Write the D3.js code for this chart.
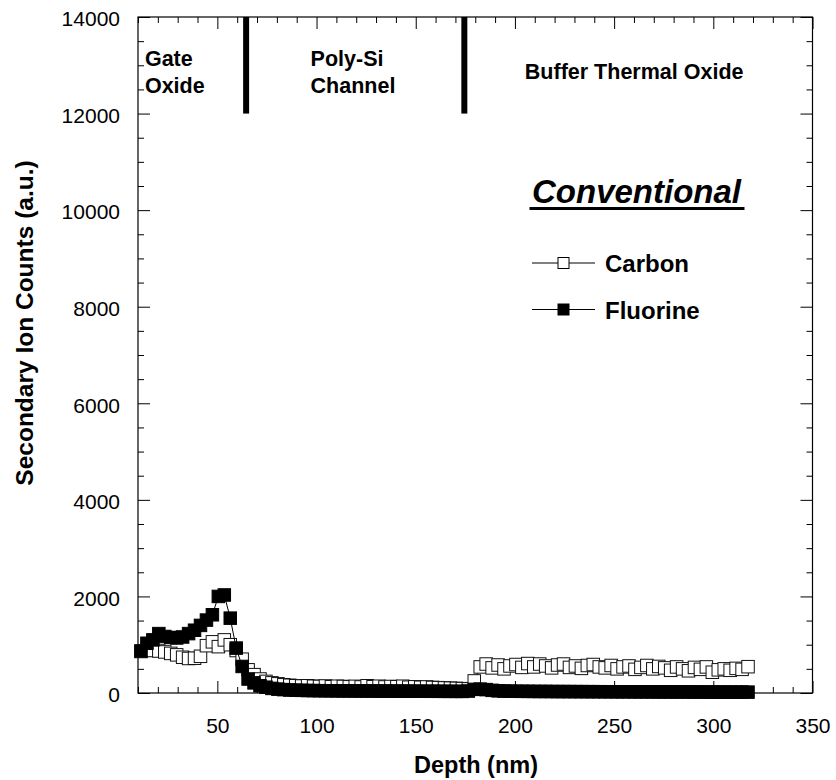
<!DOCTYPE html>
<html>
<head>
<meta charset="utf-8">
<script src="https://cdn.jsdelivr.net/npm/d3@7"></script>
<style>
  html, body { margin: 0; padding: 0; background: #fff; }
  svg { display: block; font-family: "Liberation Sans", Arial, sans-serif; }
</style>
</head>
<body>
<svg id="chart" width="836" height="780"></svg>
<script>
// ---- Data ----
const depth = [
  11.5, 14.5, 17.5, 20.5, 23.5, 26.5, 29.5, 32.5, 35.5, 38.5,
  41.5, 44.5, 47.5, 50.5, 53.5, 56.5, 59.5, 62.5, 65.5, 68.5,
  71.5, 74.5, 77.5, 80.5, 83.5, 86.5, 89.5, 92.5, 95.5, 98.5,
  101.5, 104.5, 107.5, 110.5, 113.5, 116.5, 119.5, 122.5, 125.5, 128.5,
  131.5, 134.5, 137.5, 140.5, 143.5, 146.5, 149.5, 152.5, 155.5, 158.5,
  161.5, 164.5, 167.5, 170.5, 173.5, 176.5, 179.5, 182.5, 185.5, 188.5,
  191.5, 194.5, 197.5, 200.5, 203.5, 206.5, 209.5, 212.5, 215.5, 218.5,
  221.5, 224.5, 227.5, 230.5, 233.5, 236.5, 239.5, 242.5, 245.5, 248.5,
  251.5, 254.5, 257.5, 260.5, 263.5, 266.5, 269.5, 272.5, 275.5, 278.5,
  281.5, 284.5, 287.5, 290.5, 293.5, 296.5, 299.5, 302.5, 305.5, 308.5,
  311.5, 314.5, 317.5
];
const carbon = [
  860, 890, 880, 870, 850, 820, 790, 740, 715, 720,
  760, 980, 1060, 960, 1100, 1000, 880, 700, 480, 380,
  290, 240, 210, 190, 170, 160, 150, 145, 150, 140,
  135, 145, 130, 140, 135, 128, 138, 125, 150, 130,
  140, 125, 135, 130, 140, 120, 128, 118, 125, 115,
  110, 105, 100, 95, 90, 85, 250, 540, 600, 520,
  580, 500, 560, 590, 530, 610, 540, 600, 560, 520,
  580, 600, 530, 560, 510, 570, 590, 540, 520, 570,
  500, 540, 560, 490, 530, 570, 500, 550, 520, 470,
  540, 500, 460, 530, 490, 540, 430, 480, 500, 470,
  510, 490, 545
];
const fluorine = [
  870, 1030, 1100, 1230, 1170, 1150, 1140, 1160, 1230, 1300,
  1400, 1510, 1620, 2000, 2030, 1550, 930, 550, 290, 210,
  150, 120, 95, 80, 70, 62, 58, 55, 52, 50,
  48, 47, 46, 45, 44, 44, 43, 42, 42, 41,
  40, 40, 39, 39, 38, 38, 37, 37, 36, 36,
  35, 35, 34, 34, 33, 40, 75, 80, 70, 55,
  45, 40, 38, 36, 35, 34, 33, 32, 32, 31,
  30, 30, 29, 29, 28, 28, 27, 27, 26, 26,
  25, 25, 25, 24, 24, 24, 23, 23, 23, 22,
  22, 22, 21, 21, 21, 20, 20, 20, 20, 19,
  19, 19, 18
];
const xMajorTicks = [50, 100, 150, 200, 250, 300, 350];
const yMajorTicks = [0, 2000, 4000, 6000, 8000, 10000, 12000, 14000];
const regionBoundaries = [64.5, 174.5];
const regionLabels = [
  { lines: ["Gate", "Oxide"], x: 13.5 },
  { lines: ["Poly-Si", "Channel"], x: 97 },
  { lines: ["Buffer Thermal Oxide"], x: 205 }
];
const seriesNames = ["Carbon", "Fluorine"];
const legendTitle = "Conventional";

// ---- Layout ----
const svg = d3.select("#chart");
const mLeft = 138, mRight = 812.5, mTop = 17, mBottom = 693;
const x = d3.scaleLinear().domain([10, 350]).range([mLeft, mRight]);
const y = d3.scaleLinear().domain([0, 14000]).range([mBottom, mTop]);

const xMinor = d3.range(10, 351, 10).filter(v => v % 50 !== 0);
const yMinor = d3.range(0, 14001, 500).filter(v => v % 2000 !== 0);

function styleAxis(g) {
  g.select(".domain").remove();
  g.selectAll(".tick line").attr("stroke", "#000").attr("stroke-width", 1);
}

// bottom axis majors with labels
const gxb = svg.append("g").attr("transform", `translate(0,${mBottom})`)
  .call(d3.axisBottom(x).tickValues(xMajorTicks).tickSize(-12).tickFormat(d3.format("d")));
styleAxis(gxb);
gxb.selectAll(".tick text").attr("y", 40).attr("dy", 0)
  .attr("font-size", 21).attr("fill", "#000")
  .attr("font-family", '"Liberation Sans", Arial, sans-serif');
svg.append("g").attr("transform", `translate(0,${mBottom})`)
  .call(d3.axisBottom(x).tickValues(xMinor).tickSize(-6).tickFormat(""))
  .call(styleAxis);
// top axis
svg.append("g").attr("transform", `translate(0,${mTop})`)
  .call(d3.axisTop(x).tickValues(xMajorTicks).tickSize(-12).tickFormat(""))
  .call(styleAxis);
svg.append("g").attr("transform", `translate(0,${mTop})`)
  .call(d3.axisTop(x).tickValues(xMinor).tickSize(-6).tickFormat(""))
  .call(styleAxis);
// left axis
const gyl = svg.append("g").attr("transform", `translate(${mLeft},0)`)
  .call(d3.axisLeft(y).tickValues(yMajorTicks).tickSize(-12).tickFormat(d3.format("d")));
styleAxis(gyl);
gyl.selectAll(".tick text").attr("x", -18).attr("dy", "0.42em")
  .attr("font-size", 21).attr("fill", "#000").attr("text-anchor", "end")
  .attr("font-family", '"Liberation Sans", Arial, sans-serif');
svg.append("g").attr("transform", `translate(${mLeft},0)`)
  .call(d3.axisLeft(y).tickValues(yMinor).tickSize(-6).tickFormat(""))
  .call(styleAxis);
// right axis
svg.append("g").attr("transform", `translate(${mRight},0)`)
  .call(d3.axisRight(y).tickValues(yMajorTicks).tickSize(-12).tickFormat(""))
  .call(styleAxis);
svg.append("g").attr("transform", `translate(${mRight},0)`)
  .call(d3.axisRight(y).tickValues(yMinor).tickSize(-6).tickFormat(""))
  .call(styleAxis);

// frame
svg.append("rect").attr("x", mLeft).attr("y", mTop)
  .attr("width", mRight - mLeft).attr("height", mBottom - mTop)
  .attr("fill", "none").attr("stroke", "#000").attr("stroke-width", 1.2);

// region boundaries
svg.selectAll(".boundary").data(regionBoundaries).enter().append("line")
  .attr("x1", d => x(d)).attr("x2", d => x(d))
  .attr("y1", y(14000)).attr("y2", y(12000))
  .attr("stroke", "#000").attr("stroke-width", 6);

// region labels
const lbl = svg.append("g").attr("font-weight", "bold").attr("font-size", 21.5).attr("fill", "#000");
regionLabels.forEach(r => {
  const baseY = r.lines.length === 2 ? 66 : 79;
  r.lines.forEach((t, i) => {
    lbl.append("text").attr("x", x(r.x)).attr("y", baseY + i * 27).text(t);
  });
});

// series
const MS = 12.5;
const line = d3.line().x(d => x(d[0])).y(d => y(d[1]));
const cData = depth.map((d, i) => [d, carbon[i]]);
const fData = depth.map((d, i) => [d, fluorine[i]]);

svg.append("path").datum(cData).attr("d", line)
  .attr("fill", "none").attr("stroke", "#000").attr("stroke-width", 1);
svg.append("g").selectAll("rect").data(cData).enter().append("rect")
  .attr("x", d => x(d[0]) - MS / 2).attr("y", d => y(d[1]) - MS / 2)
  .attr("width", MS).attr("height", MS)
  .attr("fill", "#fff").attr("stroke", "#111").attr("stroke-width", 1);

svg.append("path").datum(fData).attr("d", line)
  .attr("fill", "none").attr("stroke", "#000").attr("stroke-width", 1);
svg.append("g").selectAll("rect").data(fData).enter().append("rect")
  .attr("x", d => x(d[0]) - MS / 2).attr("y", d => y(d[1]) - MS / 2)
  .attr("width", MS).attr("height", MS)
  .attr("fill", "#000").attr("stroke", "#000").attr("stroke-width", 1);

// legend
svg.append("text").attr("x", 532).attr("y", 203)
  .attr("font-size", 33).attr("font-weight", "bold").attr("font-style", "italic")
  .attr("fill", "#000").text(legendTitle);
svg.append("rect").attr("x", 529.5).attr("y", 207).attr("width", 215).attr("height", 3).attr("fill", "#000");

const legY = [263, 309.5];
const fills = ["#fff", "#000"];
seriesNames.forEach((name, i) => {
  svg.append("line").attr("x1", 532).attr("x2", 595).attr("y1", legY[i]).attr("y2", legY[i])
    .attr("stroke", "#000").attr("stroke-width", 1);
  svg.append("rect").attr("x", 563.5 - 5.5).attr("y", legY[i] - 5.5)
    .attr("width", 11).attr("height", 11)
    .attr("fill", fills[i]).attr("stroke", "#000").attr("stroke-width", 1);
  svg.append("text").attr("x", 605).attr("y", legY[i] + 9)
    .attr("font-size", 24).attr("font-weight", "bold").attr("fill", "#000").text(name);
});

// axis titles
svg.append("text").attr("x", 476).attr("y", 773).attr("text-anchor", "middle")
  .attr("font-size", 23.5).attr("font-weight", "bold").attr("fill", "#000").text("Depth (nm)");
svg.append("text").attr("transform", "translate(33,323) rotate(-90)").attr("text-anchor", "middle")
  .attr("font-size", 24.5).attr("font-weight", "bold").attr("fill", "#000")
  .text("Secondary Ion Counts (a.u.)");
</script>
</body>
</html>
